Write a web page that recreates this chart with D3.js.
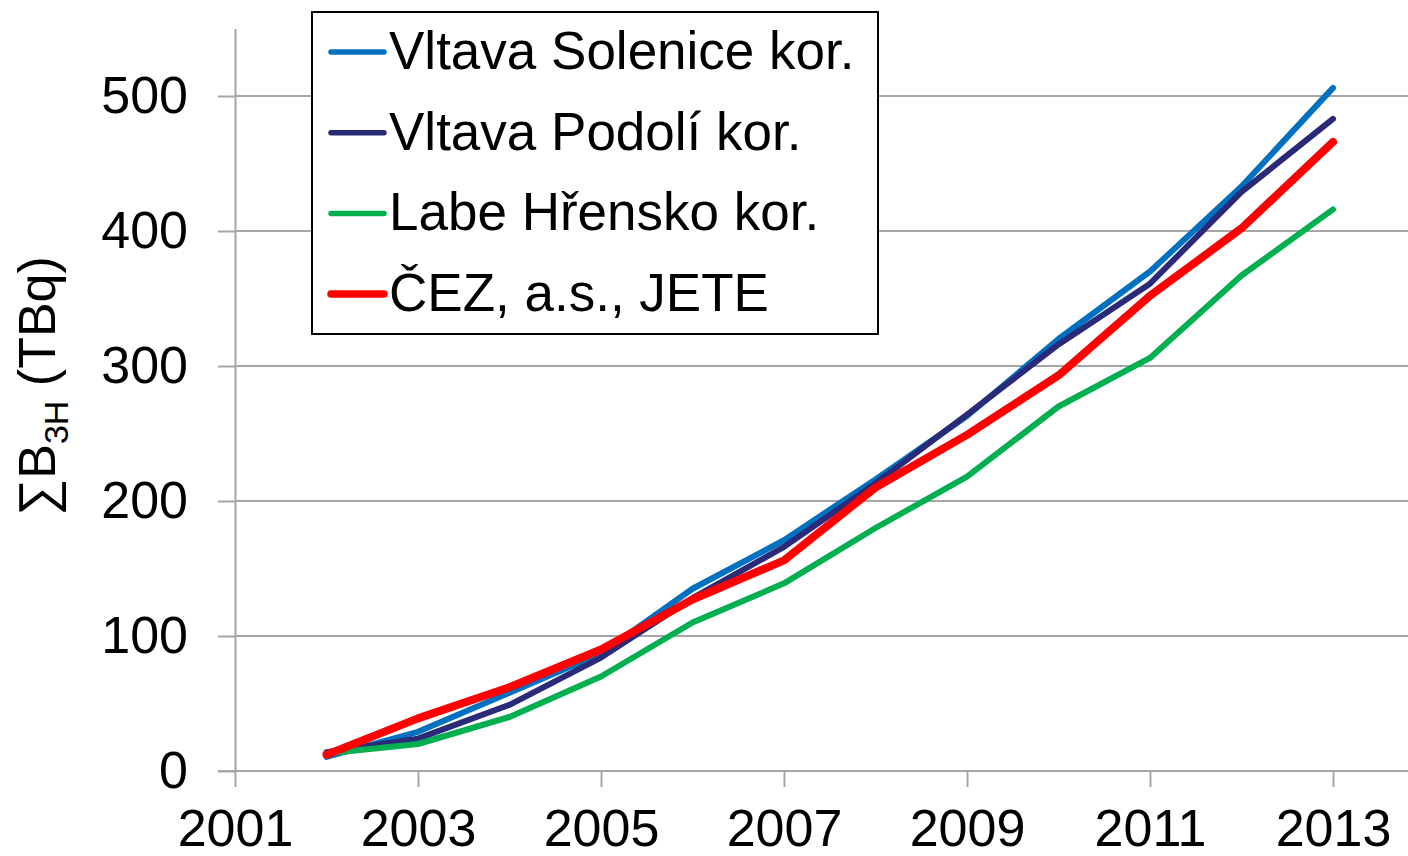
<!DOCTYPE html>
<html>
<head>
<meta charset="utf-8">
<script src="https://cdn.jsdelivr.net/npm/d3@7"></script>
<style>
  body { margin: 0; background: #fff; }
  svg { display: block; font-family: "Liberation Sans", Arial, sans-serif; }
</style>
</head>
<body>
<div id="chart"></div>
<script>
const years = [2002, 2003, 2004, 2005, 2006, 2007, 2008, 2009, 2010, 2011, 2012, 2013];
const solenice = [10.5, 29, 58, 87, 135, 171, 216, 263, 320, 370, 433, 506];
const podoli = [14, 24, 49, 84, 128, 166, 213, 264, 316, 361, 429, 483];
const hrensko = [13, 20, 40, 70, 110, 139, 180, 218, 270, 306, 367, 416];
const cez = [12, 39, 62, 90, 127, 156, 210, 249, 293, 352, 402, 466];
const seriesNames = ['Vltava Solenice kor.', 'Vltava Podolí kor.', 'Labe Hřensko kor.', 'ČEZ, a.s., JETE'];
const xTicks = [2001, 2003, 2005, 2007, 2009, 2011, 2013];
const yTicks = [0, 100, 200, 300, 400, 500];

const series = [
  { name: seriesNames[0], values: solenice, color: '#0070c0', width: 6 },
  { name: seriesNames[1], values: podoli, color: '#2a2a78', width: 6 },
  { name: seriesNames[2], values: hrensko, color: '#00b050', width: 6 },
  { name: seriesNames[3], values: cez, color: '#ff0000', width: 8 }
];

const width = 1408;
const height = 856;
const grey = '#a6a6a6';

const svg = d3.select('#chart')
  .append('svg')
  .attr('width', width)
  .attr('height', height);

const x = d3.scaleLinear().domain([2001, 2014]).range([235, 1424.5]);
const y = d3.scaleLinear().domain([0, 550]).range([771, 28.5]);

// gridlines
svg.append('g')
  .selectAll('line')
  .data(yTicks.filter(d => d > 0))
  .enter()
  .append('line')
  .attr('x1', 235)
  .attr('x2', width)
  .attr('y1', d => y(d))
  .attr('y2', d => y(d))
  .attr('stroke', grey)
  .attr('stroke-width', 2);

// y axis
const yAxis = svg.append('g')
  .attr('transform', 'translate(235,0)')
  .call(d3.axisLeft(y).tickValues(yTicks).tickSize(17).tickSizeOuter(0).tickPadding(30));
yAxis.select('.domain').attr('stroke', grey).attr('stroke-width', 2);
yAxis.selectAll('.tick line').attr('stroke', grey).attr('stroke-width', 2);
yAxis.selectAll('.tick text')
  .attr('fill', '#000')
  .style('font-size', '52px')
  .style('font-family', '"Liberation Sans", Arial, sans-serif');

// x axis
const xAxis = svg.append('g')
  .attr('transform', 'translate(0,' + y(0) + ')')
  .call(d3.axisBottom(x).tickValues(xTicks).tickFormat(d3.format('d')).tickSize(16).tickSizeOuter(0).tickPadding(22));
xAxis.select('.domain').attr('stroke', grey).attr('stroke-width', 2)
  .attr('d', 'M218,0H' + x(2014));
xAxis.selectAll('.tick line').attr('stroke', grey).attr('stroke-width', 2);
xAxis.selectAll('.tick text')
  .attr('fill', '#000')
  .style('font-size', '52px')
  .style('font-family', '"Liberation Sans", Arial, sans-serif');

// y axis title
const title = svg.append('text')
  .attr('transform', 'translate(55,386) rotate(-90)')
  .attr('text-anchor', 'middle')
  .style('font-size', '52px')
  .attr('fill', '#000');
title.append('tspan').text('∑B');
title.append('tspan').attr('dy', 13).style('font-size', '34px').text('3H');
title.append('tspan').attr('dy', -13).text(' (TBq)');

// lines
const line = d3.line()
  .x((d, i) => x(years[i]))
  .y(d => y(d));

svg.append('g')
  .selectAll('path')
  .data(series)
  .enter()
  .append('path')
  .attr('d', d => line(d.values))
  .attr('fill', 'none')
  .attr('stroke', d => d.color)
  .attr('stroke-width', d => d.width)
  .attr('stroke-linecap', 'round')
  .attr('stroke-linejoin', 'round');

// legend
const legend = svg.append('g');
legend.append('rect')
  .attr('x', 312)
  .attr('y', 12)
  .attr('width', 566)
  .attr('height', 322)
  .attr('fill', '#fff')
  .attr('stroke', '#000')
  .attr('stroke-width', 2);

const rows = legend.selectAll('g.row')
  .data(series)
  .enter()
  .append('g')
  .attr('class', 'row')
  .attr('transform', (d, i) => 'translate(0,' + (52 + i * 80.7) + ')');
rows.append('line')
  .attr('x1', 331)
  .attr('x2', 384)
  .attr('stroke', d => d.color)
  .attr('stroke-width', d => d.width - 0.5)
  .attr('stroke-linecap', 'round');
rows.append('text')
  .attr('x', 389)
  .attr('y', 17)
  .style('font-size', '53px')
  .attr('fill', '#000')
  .text(d => d.name);
</script>
</body>
</html>
